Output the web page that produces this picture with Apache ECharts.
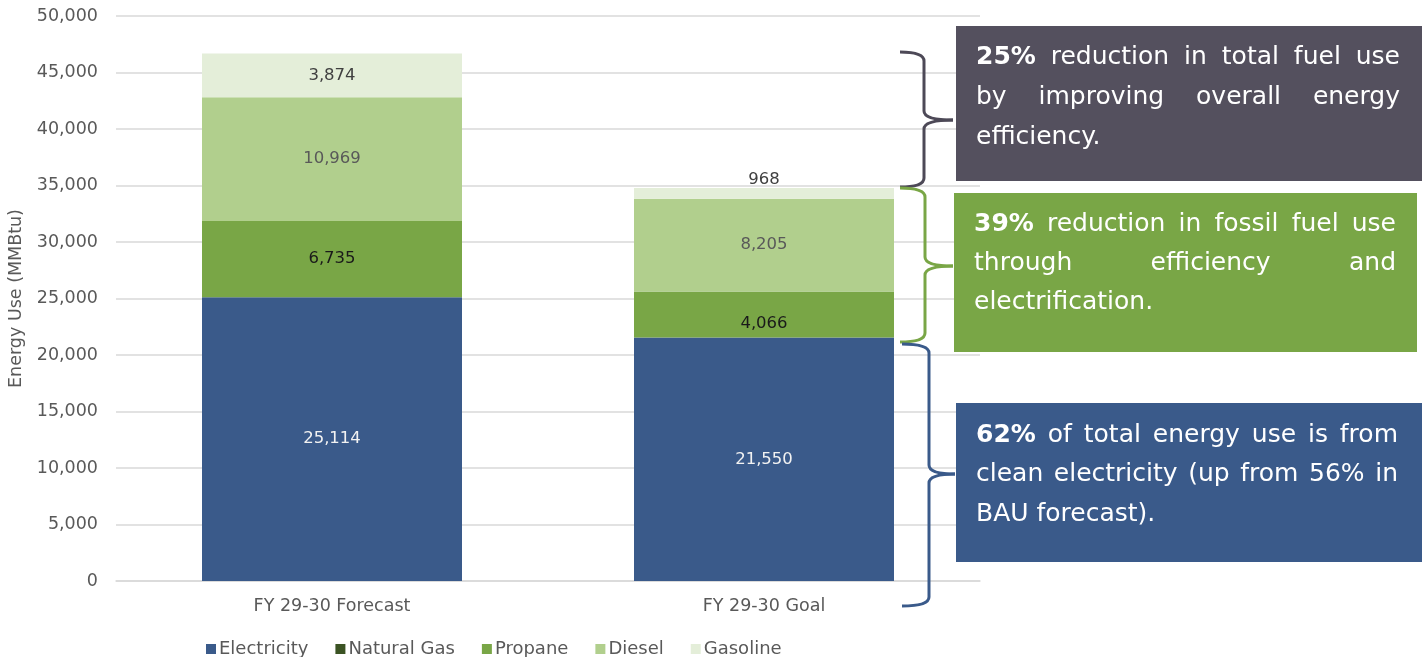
<!DOCTYPE html>
<html>
<head>
<meta charset="utf-8">
<script src="https://cdn.jsdelivr.net/npm/echarts@6/dist/echarts.min.js"></script>
<style>
html, body { margin: 0; padding: 0; background: #fff; }
#main { width: 1422px; height: 657px; }
</style>
</head>
<body>
<div id="main"></div>
<script>
// chart data (MMBtu)
const categories = ['FY 29-30 Forecast', 'FY 29-30 Goal'];
const electricity = [25114, 21550];
const naturalGas = [0, 0];
const propane = [6735, 4066];
const diesel = [10969, 8205];
const gasoline = [3874, 968];

// callout texts, '*' marks the bold word
const grayNote = ['*25% reduction in total fuel use', 'by improving overall energy', 'efficiency.'];
const greenNote = ['*39% reduction in fossil fuel use', 'through efficiency and', 'electrification.'];
const blueNote = ['*62% of total energy use is from', 'clean electricity (up from 56% in', 'BAU forecast).'];

const FONT = 'DejaVu Sans';
const C_ELEC = '#3a5a8a', C_GAS = '#3b5323', C_PROP = '#79a646', C_DIES = '#b1cf8d', C_GASO = '#e4eed9';
const C_GRAY = '#54505e';

const chart = echarts.init(document.getElementById('main'));

function lbl(color) {
    return {
        show: true, color: color, fontSize: 16.5, fontFamily: FONT,
        formatter: p => p.value ? p.value.toLocaleString('en-US') : ''
    };
}

// justified paragraph, word by word
const ctx = document.createElement('canvas').getContext('2d');
function tw(t, bold, size) {
    ctx.font = (bold ? 'bold ' : '') + size + 'px "' + FONT + '"';
    return ctx.measureText(t).width;
}
function noteText(lines, x0, x1, y0, lh, size) {
    const out = [];
    const space = tw(' ', false, size);
    lines.forEach((line, li) => {
        const items = line.split(' ').map(w => ({ t: w.replace(/^\*/, ''), b: w[0] === '*' }));
        const widths = items.map(it => tw(it.t, it.b, size));
        const total = widths.reduce((a, b) => a + b, 0);
        const last = li === lines.length - 1;
        let gap = (last || items.length < 2) ? space : (x1 - x0 - total) / (items.length - 1);
        if (gap < space * 0.5) gap = space * 0.5;
        let x = x0;
        items.forEach((it, i) => {
            out.push({
                type: 'text', x: x, y: y0 + li * lh, z: 10,
                style: { text: it.t, fill: '#fff', fontSize: size, fontFamily: FONT,
                    fontWeight: it.b ? 'bold' : 'normal', verticalAlign: 'middle' }
            });
            x += widths[i] + gap;
        });
    });
    return out;
}

// curly brace pointing right, built from lines and quadratic curves
function brace(x0, xs, xt, yTop, yMid, yBot, color) {
    const r = 9;
    const st = { stroke: color, lineWidth: 3, fill: null };
    const curve = (x1, y1, cx, cy, x2, y2) =>
        ({ type: 'bezierCurve', z: 5, shape: { x1: x1, y1: y1, cpx1: cx, cpy1: cy, x2: x2, y2: y2 }, style: st });
    const line = (x1, y1, x2, y2) =>
        ({ type: 'line', z: 5, shape: { x1: x1, y1: y1, x2: x2, y2: y2 }, style: st });
    return [
        curve(x0, yTop, xs, yTop, xs, yTop + r),
        line(xs, yTop + r, xs, yMid - r),
        curve(xs, yMid - r, xs, yMid, xt, yMid),
        curve(xt, yMid, xs, yMid, xs, yMid + r),
        line(xs, yMid + r, xs, yBot - r),
        curve(xs, yBot - r, xs, yBot, x0, yBot)
    ];
}

const option = {
    backgroundColor: '#fff',
    animation: false,
    grid: { left: 116, right: 442, top: 16, bottom: 76, containLabel: false, outerBoundsMode: 'none' },
    legend: {
        left: 201, top: 635,
        itemWidth: 10, itemHeight: 10, itemGap: 27,
        icon: 'rect',
        textStyle: { color: '#595959', fontSize: 18, fontFamily: FONT, padding: [0, 0, 0, -2] },
        data: ['Electricity', 'Natural Gas', 'Propane', 'Diesel', 'Gasoline']
    },
    xAxis: {
        type: 'category',
        data: categories,
        axisLine: { lineStyle: { color: '#d9d9d9', width: 1.5 } },
        axisTick: { show: false },
        axisLabel: { color: '#595959', fontSize: 17.5, fontFamily: FONT, margin: 16 }
    },
    yAxis: {
        type: 'value',
        min: 0, max: 50000, interval: 5000,
        name: 'Energy Use (MMBtu)',
        nameLocation: 'middle',
        nameGap: 88,
        nameTextStyle: { color: '#595959', fontSize: 17.5, fontFamily: FONT },
        axisLabel: {
            color: '#595959', fontSize: 17.5, fontFamily: FONT, margin: 18,
            formatter: v => v.toLocaleString('en-US')
        },
        splitLine: { lineStyle: { color: '#d9d9d9', width: 1.5 } }
    },
    series: [
        { name: 'Electricity', type: 'bar', stack: 'total', barWidth: 260,
          itemStyle: { color: C_ELEC }, label: lbl('#f2f2f2'), data: electricity },
        { name: 'Natural Gas', type: 'bar', stack: 'total',
          itemStyle: { color: C_GAS }, label: { show: false }, data: naturalGas },
        { name: 'Propane', type: 'bar', stack: 'total',
          itemStyle: { color: C_PROP }, label: lbl('#1a1a1a'),
          data: propane.map((v, i) => i === 1 ? { value: v, label: { offset: [0, 9] } } : v) },
        { name: 'Diesel', type: 'bar', stack: 'total',
          itemStyle: { color: C_DIES }, label: lbl('#595959'), data: diesel },
        { name: 'Gasoline', type: 'bar', stack: 'total',
          itemStyle: { color: C_GASO }, label: lbl('#404040'),
          data: gasoline.map((v, i) => i === 1 ? { value: v, label: { position: 'top', distance: 0 } } : v) }
    ],
    graphic: [
        { type: 'rect', z: 4, shape: { x: 956, y: 26, width: 466, height: 155 }, style: { fill: C_GRAY } },
        { type: 'rect', z: 4, shape: { x: 954, y: 193, width: 463, height: 159 }, style: { fill: C_PROP } },
        { type: 'rect', z: 4, shape: { x: 956, y: 403, width: 466, height: 159 }, style: { fill: C_ELEC } }
    ].concat(
        brace(900, 924, 953, 52, 120, 187, '#4d4957'),
        brace(900, 925, 953, 188, 266, 342, C_PROP),
        brace(902, 929, 955, 344, 474, 606, C_ELEC),
        noteText(grayNote, 976, 1400, 57, 40, 25),
        noteText(greenNote, 974, 1396, 224, 39, 25),
        noteText(blueNote, 976, 1398, 435, 39.5, 25)
    )
};

chart.setOption(option);
</script>
</body>
</html>
